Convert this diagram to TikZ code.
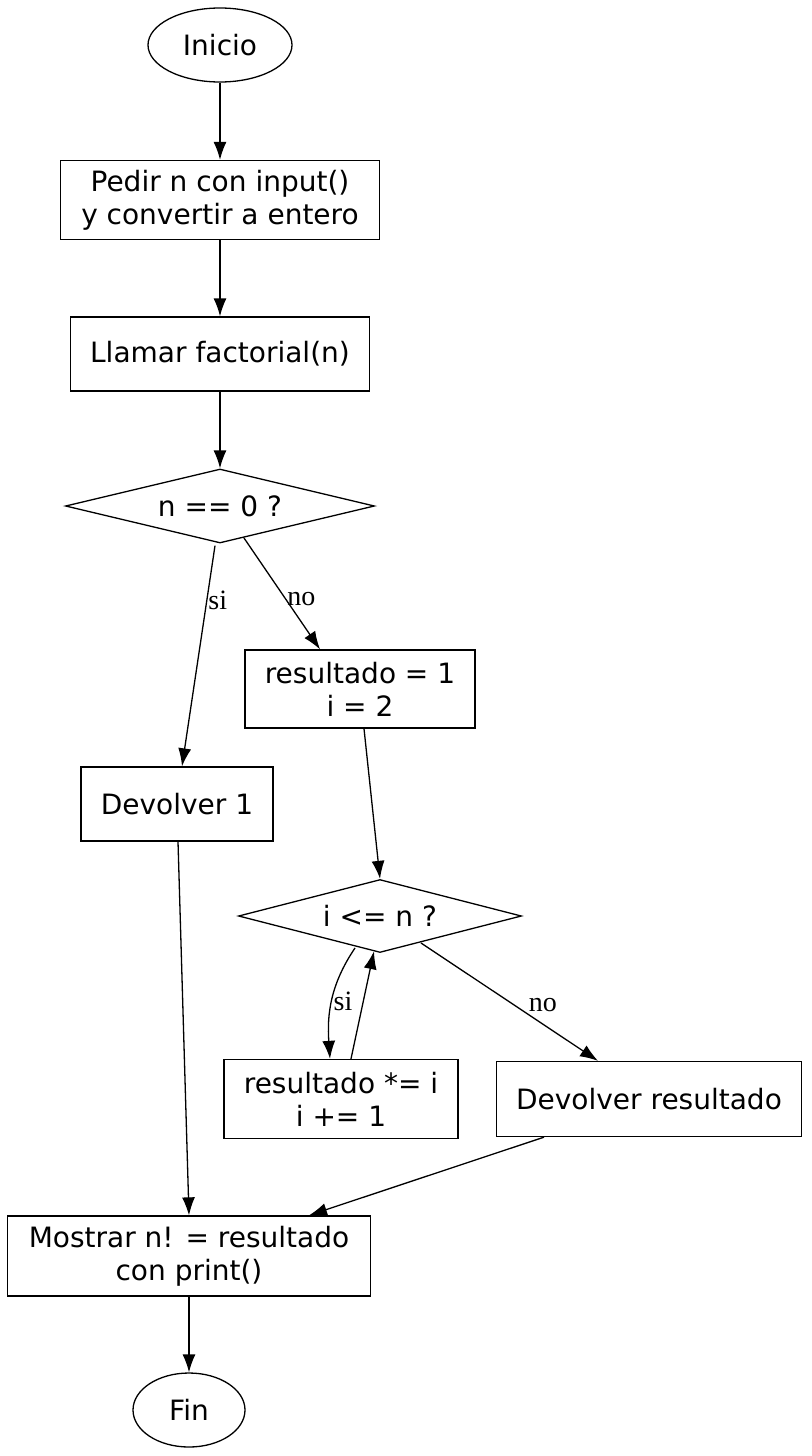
\documentclass[tikz,border=0pt]{standalone}
\usepackage{fontspec}
\setmainfont{DejaVu Sans}
\newfontfamily\lblfont{Liberation Serif}
\usetikzlibrary{shapes.geometric,arrows.meta}

\tikzset{
    box/.style={draw, rectangle, align=center, inner sep=0pt, font=\fontsize{28}{33}\selectfont},
    oval/.style={draw, ellipse, inner sep=0pt, font=\fontsize{28}{33}\selectfont},
    decision/.style={draw, diamond, inner sep=0pt},
    dtext/.style={font=\fontsize{28}{33}\selectfont, inner sep=0pt},
    link/.style={-{Latex[length=18pt,width=13pt]}},
    lbl/.style={font=\lblfont\fontsize{28}{32}\selectfont, inner sep=1pt}
}

\begin{document}
\begin{tikzpicture}[x=1pt,y=-1pt,line width=1.3pt]
    % Frame
    \useasboundingbox (0,0) rectangle (811,1456);

    % Nodes
    \node[oval, minimum width=144pt, minimum height=74pt] (inicio) at (220,45) {Inicio};
    \node[box, minimum width=319pt, minimum height=79pt] (pedir) at (220,200) {Pedir n con input()\\y convertir a entero};
    \node[box, minimum width=299pt, minimum height=74pt] (llamar) at (220,354) {Llamar factorial(n)};
    \node[decision, minimum width=309pt, minimum height=74pt] (cero) at (220,506) {};
    \node[dtext] at (cero) {n == 0 ?};
    \node[box, minimum width=230pt, minimum height=78pt] (init) at (360,689) {resultado = 1\\i = 2};
    \node[box, minimum width=192pt, minimum height=74pt] (uno) at (177,804) {Devolver 1};
    \node[decision, minimum width=283pt, minimum height=73pt] (cond) at (380,916) {};
    \node[dtext] at (cond) {i <= n ?};
    \node[box, minimum width=234pt, minimum height=79pt] (paso) at (341,1099) {resultado *= i\\i += 1};
    \node[box, minimum width=305pt, minimum height=75pt] (res) at (649,1099) {Devolver resultado};
    \node[box, minimum width=363pt, minimum height=80pt] (mostrar) at (189,1256) {Mostrar n! = resultado\\con print()};
    \node[oval, minimum width=112pt, minimum height=74pt] (fin) at (189,1410) {Fin};

    % Edges
    \draw[link] (inicio) -- (pedir);
    \draw[link] (pedir) -- (llamar);
    \draw[link] (llamar) -- (cero);
    \draw[link] ([xshift=-5pt,yshift=-2pt]cero.south) -- node[lbl, right, pos=0.25] {si} ([xshift=5pt]uno.north);
    \draw[link] (244,538) -- node[lbl, right, pos=0.55] {no} ([xshift=-40pt]init.north);
    \draw[link] ([xshift=4pt]init.south) -- (cond.north);
    \draw[link] (355,948) .. controls (330,985) and (327,1015) .. node[lbl, right, pos=0.5] {si} ([xshift=-11pt]paso.north);
    \draw[link] ([xshift=10pt]paso.north) -- ([xshift=-6pt,yshift=2pt]cond.south);
    \draw[link] (421,943) -- node[lbl, above right, pos=0.6] {no} ([xshift=-51pt]res.north);
    \draw[link] ([xshift=1pt]uno.south) -- (mostrar.north);
    \draw[link] ([xshift=-105pt]res.south) -- ([xshift=120pt]mostrar.north);
    \draw[link] (mostrar) -- (fin);
\end{tikzpicture}
\end{document}
